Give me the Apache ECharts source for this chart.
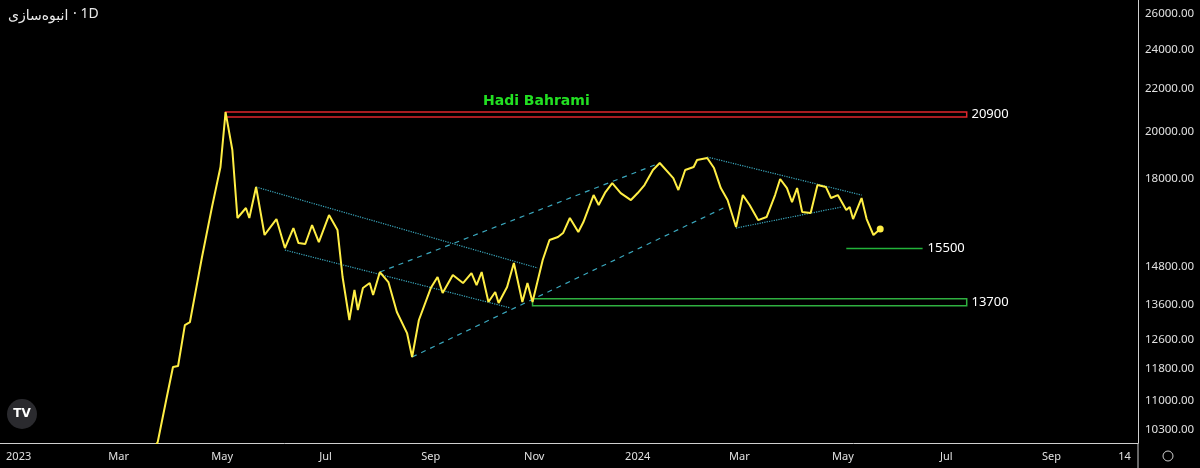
<!DOCTYPE html>
<html>
<head>
<meta charset="utf-8">
<script src="https://cdn.jsdelivr.net/npm/echarts@6/dist/echarts.min.js"></script>
<style>html,body{margin:0;background:#000;}#c{width:1200px;height:468px;}</style>
</head>
<body>
<div id="c"></div>
<script>
// price series (daily close)
var dates = ['2023-03-17','2023-03-24','2023-03-29','2023-04-02','2023-04-05','2023-04-09','2023-04-12','2023-04-19','2023-04-25','2023-04-30',
  '2023-05-03','2023-05-07','2023-05-10','2023-05-15','2023-05-17','2023-05-21','2023-05-26','2023-05-29','2023-06-02','2023-06-07',
  '2023-06-12','2023-06-15','2023-06-19','2023-06-23','2023-06-27','2023-07-03','2023-07-08','2023-07-11','2023-07-15','2023-07-18',
  '2023-07-20','2023-07-23','2023-07-27','2023-07-29','2023-08-02','2023-08-07','2023-08-12','2023-08-18','2023-08-21','2023-08-25',
  '2023-09-01','2023-09-05','2023-09-08','2023-09-14','2023-09-20','2023-09-25','2023-09-28','2023-10-01','2023-10-05','2023-10-09',
  '2023-10-11','2023-10-16','2023-10-20','2023-10-25','2023-10-28','2023-10-31','2023-11-06','2023-11-10','2023-11-15','2023-11-18',
  '2023-11-22','2023-11-27','2023-11-30','2023-12-06','2023-12-09','2023-12-13','2023-12-17','2023-12-22','2023-12-28','2024-01-01',
  '2024-01-05','2024-01-10','2024-01-14','2024-01-22','2024-01-25','2024-01-29','2024-02-03','2024-02-05','2024-02-11','2024-02-15',
  '2024-02-19','2024-02-23','2024-02-28','2024-03-03','2024-03-07','2024-03-12','2024-03-17','2024-03-22','2024-03-25','2024-03-29',
  '2024-04-01','2024-04-04','2024-04-07','2024-04-12','2024-04-16','2024-04-21','2024-04-24','2024-04-28','2024-05-03','2024-05-05',
  '2024-05-07','2024-05-12','2024-05-15','2024-05-19','2024-05-23'];
var closes = [9600,10023,11006,11846,11872,13005,13094,15101,16915,18494,
  20900,19206,16508,16879,16508,17686,15894,16143,16468,15438,
  16143,15612,15579,16252,15647,16617,16071,14475,13153,14061,
  13450,14123,14282,13905,14636,14313,13390,12776,12113,13153,
  14123,14475,13967,14539,14282,14604,14217,14636,13692,13998,
  13660,14154,14932,13692,14282,13692,15033,15717,15824,15964,
  16508,16000,16359,17373,16991,17490,17844,17451,17181,17451,
  17766,18369,18658,18044,17568,18369,18494,18782,18866,18450,
  17646,17181,16180,17373,16991,16432,16544,17373,18005,17646,
  17105,17646,16728,16692,17766,17686,17259,17373,16804,16915,
  16468,17259,16468,15894,16110.67];

// price axis ticks (log scale)
var yTicks = [10300,11000,11800,12600,13600,14800,18000,20000,22000,24000,26000];
// time axis labels
var xTicks = ['2023-01-01','2023-03-01','2023-05-01','2023-07-01','2023-09-01','2023-11-01','2024-01-01','2024-03-01','2024-05-01','2024-07-01','2024-09-01','2024-10-14'];
var xTickNames = ['2023','Mar','May','Jul','Sep','Nov','2024','Mar','May','Jul','Sep','14'];

// drawn levels
var resistance = {from:'2023-05-03', to:'2024-07-13', top:20900, bottom:20671, label:'20900'};
var support = {from:'2023-10-31', to:'2024-07-13', top:13790, bottom:13580, label:'13700'};
var target = {from:'2024-05-03', to:'2024-06-17', value:15438, label:'15500'};

// trend lines [date, price] pairs
var trendDotted = [
  [['2023-05-21',17686],['2023-11-03',14769]],
  [['2023-06-07',15371],['2023-10-18',13510]],
  [['2024-02-11',18910],['2024-05-12',17373]],
  [['2024-02-28',16143],['2024-04-30',16915]]
];
var trendDashed = [
  [['2023-08-21',12113],['2024-02-23',16955]],
  [['2023-08-02',14636],['2024-01-14',18658]]
];

var ts = function(d){ return Date.parse(d + 'T00:00:00Z'); };
var L = Math.log;
var font = 'Noto Sans, DejaVu Sans, sans-serif';
var xTickTs = xTicks.map(ts);

var priceData = dates.map(function(d,i){ return [ts(d), L(closes[i])]; });
var last = closes[closes.length-1];

var series = [{
  type:'line', data:priceData, showSymbol:false, smooth:false, animation:false,
  lineStyle:{color:'#ffee44', width:2}, z:5,
  markPoint:{symbol:'circle', symbolSize:7, itemStyle:{color:'#ffee44'}, label:{show:false},
    data:[{coord:priceData[priceData.length-1]}]},
  markLine:{symbol:['none','none'], silent:true, animation:false,
    data:[
      {yAxis:L(last), lineStyle:{opacity:0},
       label:{position:'end', distance:4, formatter:last.toFixed(2), color:'#000', backgroundColor:'#ffe600',
              padding:[3,4], fontSize:12, fontFamily:font}},
      [{coord:[ts(target.from), L(target.value)]},{coord:[ts(target.to), L(target.value)],
        label:{show:true, position:'end', formatter:target.label, color:'#fff', fontSize:13, fontFamily:font}}]
    ],
    lineStyle:{color:'#22b33a', width:1.3, type:'solid'}, label:{show:false}},
  markArea:{silent:true, animation:false, data:[
    [{coord:[ts(resistance.from), L(resistance.top)], itemStyle:{color:'rgba(0,0,0,0)', borderColor:'#e0262d', borderWidth:1.5},
      label:{show:true, position:'right', formatter:resistance.label, color:'#fff', fontSize:13, fontFamily:font, distance:4}},
     {coord:[ts(resistance.to), L(resistance.bottom)]}],
    [{coord:[ts(support.from), L(support.top)], itemStyle:{color:'rgba(0,0,0,0)', borderColor:'#2fb040', borderWidth:1.5},
      label:{show:true, position:'right', formatter:support.label, color:'#fff', fontSize:13, fontFamily:font, distance:4}},
     {coord:[ts(support.to), L(support.bottom)]}]
  ]}
}];
trendDotted.forEach(function(seg){
  series.push({type:'line', data:seg.map(function(p){return [ts(p[0]), L(p[1])];}), showSymbol:false, animation:false, silent:true,
    lineStyle:{color:'#3aa7bd', width:1.2, type:'dotted'}, z:3});
});
trendDashed.forEach(function(seg){
  series.push({type:'line', data:seg.map(function(p){return [ts(p[0]), L(p[1])];}), showSymbol:false, animation:false, silent:true,
    lineStyle:{color:'#3aa7bd', width:1.2, type:[5,5]}, z:3});
});

var chart = echarts.init(document.getElementById('c'));
chart.setOption({
  backgroundColor:'#000',
  animation:false,
  grid:{left:0, right:62, top:0, height:443},
  xAxis:{type:'value', min:ts('2022-12-21'), max:ts('2024-10-22'),
    axisLine:{show:true, onZero:false, lineStyle:{color:'#cfcfcf', width:1}}, axisTick:{show:false}, splitLine:{show:false},
    axisLabel:{customValues:xTickTs, color:'#e0e0e0', fontSize:11, fontFamily:font, margin:8,
      formatter:function(v){ var i = xTickTs.indexOf(v); return i >= 0 ? xTickNames[i] : ''; }}},
  yAxis:{type:'value', position:'right', min:9.2105, max:10.1971,
    axisLine:{show:true, lineStyle:{color:'#cfcfcf', width:1}}, axisTick:{show:false}, splitLine:{show:false},
    axisLabel:{customValues:yTicks.map(L), color:'#e0e0e0', fontSize:11.5, fontFamily:font, margin:7,
      formatter:function(v){ return Math.round(Math.exp(v) / 100) * 100 + '.00'; }}},
  graphic:[
    {type:'text', left:8, top:9, style:{text:'انبوه‌سازی', fill:'#e8e8e8', font:'14px DejaVu Sans, sans-serif'}},
    {type:'text', left:73, top:7, style:{text:'\u00b7 1D', fill:'#e8e8e8', font:'14px Noto Sans, sans-serif'}},
    {type:'text', left:483, top:94, style:{text:'Hadi Bahrami', fill:'#22e022', font:'bold 14px DejaVu Sans, sans-serif'}},
    {type:'circle', shape:{cx:22, cy:414, r:15}, style:{fill:'#2a2a2e'}},
    {type:'text', x:22, y:414, style:{text:'TV', fill:'#fff', font:'bold 12px DejaVu Sans, sans-serif', align:'center', verticalAlign:'middle'}},
    {type:'line', shape:{x1:1138, y1:443, x2:1138, y2:468}, style:{stroke:'#cfcfcf', lineWidth:1}},
    {type:'circle', shape:{cx:1168, cy:456, r:5}, style:{fill:'none', stroke:'#cfcfcf', lineWidth:1}}
  ],
  series:series
});
</script>
</body>
</html>
